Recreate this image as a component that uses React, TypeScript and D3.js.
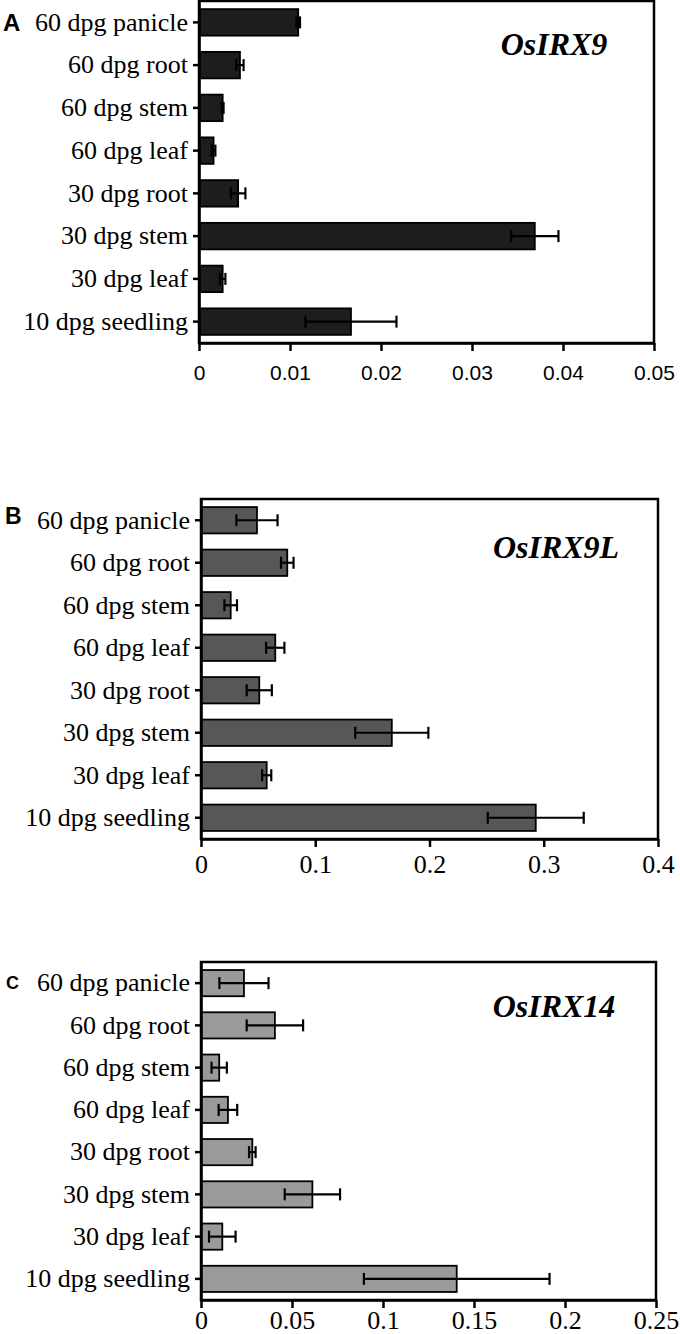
import React, { useEffect, useRef } from 'react';
import * as d3 from 'd3';

// tissues, top to bottom
const categories = [
  '60 dpg panicle',
  '60 dpg root',
  '60 dpg stem',
  '60 dpg leaf',
  '30 dpg root',
  '30 dpg stem',
  '30 dpg leaf',
  '10 dpg seedling',
];

const irx9 = [0.0109, 0.0045, 0.0026, 0.0016, 0.0043, 0.0369, 0.0026, 0.0167];
const irx9Err = [0.0002, 0.0004, 0.0001, 0.0002, 0.0008, 0.0026, 0.0003, 0.005];

const irx9l = [0.049, 0.0755, 0.026, 0.065, 0.051, 0.167, 0.0575, 0.293];
const irx9lErr = [0.018, 0.0055, 0.0055, 0.008, 0.011, 0.032, 0.004, 0.042];

const irx14 = [0.0236, 0.0406, 0.01, 0.0148, 0.0282, 0.0612, 0.0117, 0.1405];
const irx14Err = [0.0135, 0.0155, 0.0042, 0.0051, 0.0018, 0.0152, 0.0073, 0.051];

const ticksA = [0, 0.01, 0.02, 0.03, 0.04, 0.05];
const ticksB = [0, 0.1, 0.2, 0.3, 0.4];
const ticksC = [0, 0.05, 0.1, 0.15, 0.2, 0.25];

const width = 680;
const height = 1334;

const panels = [
  {
    letter: 'A', gene: 'OsIRX9', values: irx9, errors: irx9Err, ticks: ticksA,
    left: 199, right: 654, top: 1, bottom: 343, fill: '#1d1d1d',
    tickFont: '"Liberation Sans", Arial, sans-serif', tickSize: 21, tickBase: 37,
    letterX: 3, letterY: 31, letterSize: 24, titleX: 554, titleY: 55,
  },
  {
    letter: 'B', gene: 'OsIRX9L', values: irx9l, errors: irx9lErr, ticks: ticksB,
    left: 201, right: 658, top: 499, bottom: 839, fill: '#575757',
    tickFont: '"Liberation Serif", "Times New Roman", serif', tickSize: 26, tickBase: 34,
    letterX: 5, letterY: 524, letterSize: 23, titleX: 556, titleY: 558,
  },
  {
    letter: 'C', gene: 'OsIRX14', values: irx14, errors: irx14Err, ticks: ticksC,
    left: 201, right: 656, top: 962, bottom: 1300, fill: '#9a9a9a',
    tickFont: '"Liberation Serif", "Times New Roman", serif', tickSize: 26, tickBase: 29,
    letterX: 6, letterY: 989, letterSize: 18, titleX: 554, titleY: 1017,
  },
];

const App: React.FC = () => {
  const svgRef = useRef<SVGSVGElement>(null);

  useEffect(() => {
    if (!svgRef.current) return;
    const svg = d3.select(svgRef.current);
    svg.selectAll('*').remove();

    panels.forEach((p) => {
      const x = d3.scaleLinear()
        .domain([p.ticks[0], p.ticks[p.ticks.length - 1]])
        .range([p.left, p.right]);
      const y = d3.scaleBand()
        .domain(categories)
        .range([p.top, p.bottom])
        .paddingInner(0.38)
        .paddingOuter(0.19);

      const g = svg.append('g');

      // bars
      g.selectAll('rect.bar')
        .data(p.values)
        .enter()
        .append('rect')
        .attr('class', 'bar')
        .attr('x', x(0))
        .attr('y', (_, i) => y(categories[i])!)
        .attr('width', d => x(d) - x(0))
        .attr('height', y.bandwidth())
        .attr('fill', p.fill)
        .attr('stroke', '#000')
        .attr('stroke-width', 1.8);

      // error bars
      const capH = 12;
      const err = g.selectAll('g.err')
        .data(p.values)
        .enter()
        .append('g')
        .attr('class', 'err')
        .attr('stroke', '#000')
        .attr('stroke-width', 2.2);
      const cy = (i: number) => y(categories[i])! + y.bandwidth() / 2;
      err.append('line')
        .attr('x1', (d, i) => x(d - p.errors[i]))
        .attr('x2', (d, i) => x(d + p.errors[i]))
        .attr('y1', (_, i) => cy(i))
        .attr('y2', (_, i) => cy(i));
      err.append('line')
        .attr('x1', (d, i) => x(d - p.errors[i]))
        .attr('x2', (d, i) => x(d - p.errors[i]))
        .attr('y1', (_, i) => cy(i) - capH / 2)
        .attr('y2', (_, i) => cy(i) + capH / 2);
      err.append('line')
        .attr('x1', (d, i) => x(d + p.errors[i]))
        .attr('x2', (d, i) => x(d + p.errors[i]))
        .attr('y1', (_, i) => cy(i) - capH / 2)
        .attr('y2', (_, i) => cy(i) + capH / 2);

      // frame
      g.append('rect')
        .attr('x', p.left)
        .attr('y', p.top)
        .attr('width', p.right - p.left)
        .attr('height', p.bottom - p.top)
        .attr('fill', 'none')
        .attr('stroke', '#000')
        .attr('stroke-width', 2.5);

      // category axis
      const yAxis = g.append('g')
        .attr('transform', `translate(${p.left},0)`)
        .call(d3.axisLeft(y).tickSize(6).tickSizeOuter(0).tickPadding(5));
      yAxis.select('.domain').attr('stroke-width', 2.5);
      yAxis.selectAll('line').attr('stroke-width', 2.5);
      yAxis.selectAll('text')
        .attr('fill', '#000')
        .style('font-family', '"Liberation Serif", "Times New Roman", serif')
        .style('font-size', '26px');

      // value axis
      const xAxis = g.append('g')
        .attr('transform', `translate(0,${p.bottom})`)
        .call(d3.axisBottom(x).tickValues(p.ticks).tickSize(8).tickSizeOuter(0)
          .tickFormat(d => String(+d)));
      xAxis.select('.domain').attr('stroke-width', 2.5);
      xAxis.selectAll('line').attr('stroke-width', 2.5);
      xAxis.selectAll('text')
        .attr('fill', '#000')
        .attr('y', p.tickBase)
        .attr('dy', null)
        .style('font-family', p.tickFont)
        .style('font-size', `${p.tickSize}px`);

      // panel letter
      g.append('text')
        .attr('x', p.letterX)
        .attr('y', p.letterY)
        .style('font-family', '"Liberation Sans", Arial, sans-serif')
        .style('font-weight', 'bold')
        .style('font-size', `${p.letterSize}px`)
        .text(p.letter);

      // gene name
      g.append('text')
        .attr('x', p.titleX)
        .attr('y', p.titleY)
        .attr('text-anchor', 'middle')
        .style('font-family', '"Liberation Serif", "Times New Roman", serif')
        .style('font-weight', 'bold')
        .style('font-style', 'italic')
        .style('font-size', '32px')
        .text(p.gene);
    });
  }, []);

  return (
    <svg
      ref={svgRef}
      width={width}
      height={height}
      style={{ position: 'absolute', left: 0, top: 0, background: '#fff' }}
    />
  );
};

export default App;
